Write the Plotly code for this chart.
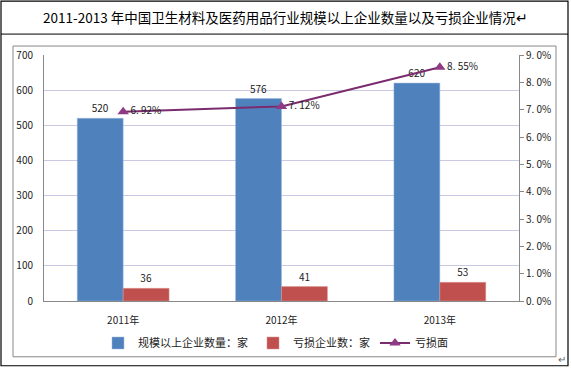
import plotly.graph_objects as go

years = ["2011年", "2012年", "2013年"]
scale_count = [520, 576, 620]
loss_count = [36, 41, 53]
loss_rate = [6.92, 7.12, 8.55]
rate_labels = ["6. 92%", "7. 12%", "8. 55%"]
right_ticks = [0, 1, 2, 3, 4, 5, 6, 7, 8, 9]
right_tick_text = ["0. 0%", "1. 0%", "2. 0%", "3. 0%", "4. 0%", "5. 0%", "6. 0%", "7. 0%", "8. 0%", "9. 0%"]

W, H = 571, 368
L, R, T, B = 44, 519, 55, 302
pw, ph = R - L, B - T

def px(x):
    return (x - L) / pw

def py(y):
    return (B - y) / ph

font = "SimSun, 'Noto Sans CJK SC', sans-serif"

fig = go.Figure()
fig.add_trace(go.Bar(
    x=years, y=scale_count, name="规模以上企业数量：家",
    marker=dict(color="#4F81BD", line=dict(color="#9DB9DB", width=0.5)),
    text=[str(v) for v in scale_count], textposition="outside",
    textfont=dict(size=10, color="#222"), cliponaxis=False,
))
fig.add_trace(go.Bar(
    x=years, y=loss_count, name="亏损企业数：家",
    marker=dict(color="#C0504D", line=dict(color="#D99694", width=0.5)),
    text=[str(v) for v in loss_count], textposition="outside",
    textfont=dict(size=10, color="#222"), cliponaxis=False,
))
fig.add_trace(go.Scatter(
    x=years, y=loss_rate, name="亏损面", yaxis="y2",
    mode="lines+markers+text",
    line=dict(color="#7B2C6E", width=2),
    marker=dict(symbol="triangle-up", size=10, color="#8E3A85"),
    text=rate_labels, textposition="middle right",
    textfont=dict(size=10, color="#222"), cliponaxis=False,
))

shapes = [
    # outer table box
    dict(type="rect", xref="paper", yref="paper",
         x0=px(1), x1=px(568), y0=py(1), y1=py(367),
         line=dict(color="#000", width=1.2)),
    dict(type="line", xref="paper", yref="paper",
         x0=px(1), x1=px(568), y0=py(34), y1=py(34),
         line=dict(color="#000", width=1)),
    # inner chart border
    dict(type="rect", xref="paper", yref="paper",
         x0=px(13), x1=px(556), y0=py(46), y1=py(358),
         line=dict(color="#888", width=1)),
]

annotations = [
    dict(text="2011-2013 年中国卫生材料及医药用品行业规模以上企业数量以及亏损企业情况↵",
         xref="paper", yref="paper", x=px(285), y=py(17),
         showarrow=False, font=dict(size=13.5, color="#000", family=font),
         xanchor="center", yanchor="middle"),
    dict(text="↵", xref="paper", yref="paper", x=px(562), y=py(360),
         showarrow=False, font=dict(size=10, color="#666"),
         xanchor="center", yanchor="middle"),
]

fig.update_layout(
    width=W, height=H,
    margin=dict(l=L, r=W - R, t=T, b=H - B, pad=0),
    paper_bgcolor="white", plot_bgcolor="white",
    font=dict(family=font, size=10, color="#222"),
    barmode="group", bargap=0.42, bargroupgap=0,
    showlegend=True,
    legend=dict(orientation="h", x=px(98), y=py(343), xanchor="left", yanchor="middle",
                font=dict(size=11), itemwidth=30, bgcolor="rgba(0,0,0,0)",
                traceorder="normal"),
    xaxis=dict(showline=True, linecolor="#888", linewidth=1, ticks="",
               tickfont=dict(size=10), showgrid=False, ticklabelstandoff=10),
    yaxis=dict(range=[0, 700], dtick=100, showline=True, linecolor="#888", linewidth=1,
               gridcolor="#C9C9E3", gridwidth=1, ticks="", tickfont=dict(size=10),
               zeroline=False, ticklabelstandoff=8),
    yaxis2=dict(range=[0, 9], overlaying="y", side="right", tickvals=right_ticks,
                ticktext=right_tick_text, showgrid=False, showline=True, linecolor="#888",
                linewidth=1, ticks="outside", ticklen=4, tickcolor="#888",
                tickfont=dict(size=10), zeroline=False),
    shapes=shapes, annotations=annotations,
)

fig.write_html("out.html", config={"displayModeBar": False},
               post_script="document.body.style.margin='0';document.body.style.overflow='hidden';")
